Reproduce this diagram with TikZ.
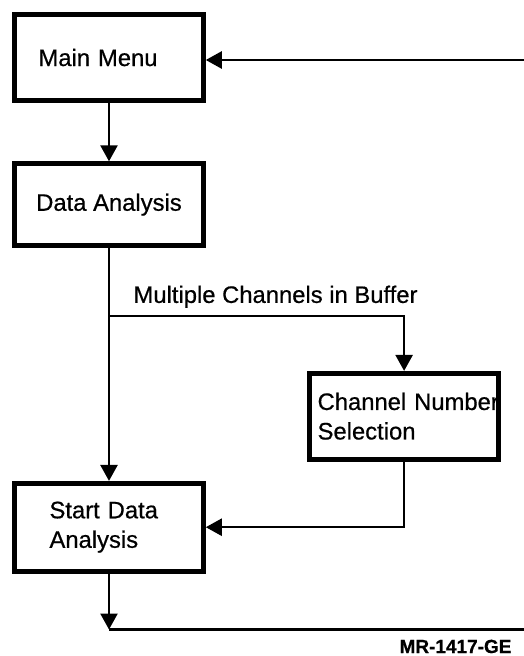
\documentclass[tikz,border=0pt]{standalone}
\usepackage{fontspec}
\setmainfont{Liberation Sans}[FakeBold=0.6]
\usetikzlibrary{positioning,arrows.meta}

\begin{document}
\begin{tikzpicture}[
        box/.style={rectangle, draw, line width=4.6pt, minimum width=189pt, minimum height=86pt, align=left, font=\fontsize{23.8}{29.5}\selectfont},
        flow/.style={line width=2.5pt},
        arr/.style={flow, -{Triangle[length=16pt,width=17pt]}},
        lbl/.style={font=\fontsize{23.8}{29.5}\selectfont}
    ]
        \useasboundingbox (0,0) rectangle (524pt,-656pt);
        %% Boxes
    	\node[box, text width=141pt, inner xsep=24pt] (menu) at (109pt,-57.5pt) {Main Menu};
    	\node[box, minimum height=82pt, below=58.5pt of menu] (dataan) {Data Analysis};
    	\node[box, minimum height=88pt, text width=119pt, inner xsep=35pt, below=233pt of dataan] (startda) {Start Data\\Analysis};
    	\node[box, text width=173pt, inner xsep=8pt, below right=123pt and 101.5pt of dataan] (chansel) {\mbox{Channel Number}\\Selection};
    	
    	%% Branch points
    	\coordinate[below=68pt of dataan] (split);
    	\coordinate[below=56pt of startda] (tail);
    	\coordinate (entryR) at (524pt,-60pt);
    	\coordinate (exitR) at (524pt,0pt);
    	
    	\node[lbl, anchor=base west] (buflbl) at ([xshift=21pt,yshift=13pt]split) {Multiple Channels in Buffer};
    	
    	%% Flow
    	\draw[arr] (entryR) -- (entryR -| menu.east);
    	\draw[arr] (menu) -- (dataan);
    	\draw[arr] (dataan) -- (startda);
    	\draw[arr] (split) -| (chansel);
    	\draw[arr] (chansel) |- (startda);
    	\draw[arr] (startda) -- (tail);
    	\draw[flow] (tail) -- (tail -| exitR);
    	
    	\node[anchor=base east, font=\fontsize{19}{22}\selectfont\bfseries] (mrnum) at (515pt,-653pt) {MR-1417-GE};
    \end{tikzpicture}
\end{document}
